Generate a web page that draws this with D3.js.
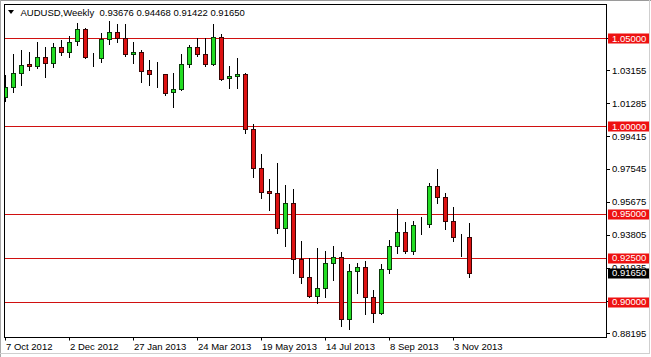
<!DOCTYPE html>
<html><head><meta charset="utf-8">
<script src="https://cdn.jsdelivr.net/npm/d3@7/dist/d3.min.js"></script>
<style>html,body{margin:0;padding:0;background:#fff;}svg{display:block;}</style>
</head><body>
<svg id="c" width="651" height="357"></svg>
<script>
const weeks = ["2012-10-07","2012-10-14","2012-10-21","2012-10-28","2012-11-04","2012-11-11","2012-11-18","2012-11-25","2012-12-02","2012-12-09","2012-12-16","2012-12-23","2012-12-30",
"2013-01-06","2013-01-13","2013-01-20","2013-01-27","2013-02-03","2013-02-10","2013-02-17","2013-02-24","2013-03-03","2013-03-10","2013-03-17","2013-03-24","2013-03-31",
"2013-04-07","2013-04-14","2013-04-21","2013-04-28","2013-05-05","2013-05-12","2013-05-19","2013-05-26","2013-06-02","2013-06-09","2013-06-16","2013-06-23","2013-06-30",
"2013-07-07","2013-07-14","2013-07-21","2013-07-28","2013-08-04","2013-08-11","2013-08-18","2013-08-25","2013-09-01","2013-09-08","2013-09-15","2013-09-22","2013-09-29",
"2013-10-06","2013-10-13","2013-10-20","2013-10-27","2013-11-03","2013-11-10","2013-11-17"];
const openP = [1.0166,1.0220,1.0299,1.0352,1.0341,1.0390,1.0356,1.0451,1.0422,1.0483,
1.0549,1.0388,1.0385,1.0493,1.0532,1.0498,1.0407,1.0419,1.0318,1.0295,
1.0295,1.0191,1.0208,1.0350,1.0447,1.0409,1.0350,1.0504,1.0271,1.0282,
1.0295,0.9981,0.9759,0.9630,0.9617,0.9418,0.9560,0.9243,0.9139,0.9034,
0.9080,0.9218,0.9253,0.8900,0.9173,0.9196,0.9025,0.8934,0.9184,0.9319,
0.9396,0.9290,0.9436,0.9440,0.9658,0.9594,0.9461,0.9366,0.93676];
const highP = [1.0290,1.0409,1.0432,1.0419,1.0476,1.0451,1.0473,1.0489,1.0511,1.0584,
1.0555,1.0416,1.0527,1.0597,1.0580,1.0580,1.0479,1.0432,1.0375,1.0365,
1.0297,1.0303,1.0409,1.0460,1.0498,1.0498,1.0580,1.0523,1.0341,1.0385,
1.0303,1.0011,0.9838,0.9698,0.9787,0.9662,0.9641,0.9345,0.9247,0.9304,
0.9288,0.9317,0.9283,0.9214,0.9218,0.9233,0.9067,0.9214,0.9351,0.9526,
0.9453,0.9459,0.9484,0.9674,0.9753,0.9617,0.9540,0.9385,0.94468];
const lowP = [1.0142,1.0195,1.0233,1.0318,1.0328,1.0280,1.0333,1.0403,1.0390,1.0460,
1.0386,1.0341,1.0365,1.0466,1.0479,1.0398,1.0356,1.0251,1.0233,1.0220,
1.0176,1.0109,1.0204,1.0337,1.0398,1.0341,1.0346,1.0261,1.0217,1.0217,
0.9958,0.9708,0.9588,0.9522,0.9393,0.9319,0.9162,0.9108,0.9028,0.8994,
0.9028,0.9123,0.8863,0.8843,0.9051,0.8928,0.8886,0.8930,0.9162,0.9279,
0.9279,0.9271,0.9385,0.9427,0.9563,0.9414,0.9347,0.9260,0.91422];
const closeP = [1.0220,1.0299,1.0345,1.0339,1.0390,1.0356,1.0451,1.0422,1.0479,1.0549,
1.0390,1.0388,1.0493,1.0532,1.0498,1.0407,1.0420,1.0314,1.0294,1.0295,
1.0189,1.0208,1.0352,1.0447,1.0407,1.0350,1.0504,1.0267,1.0282,1.0295,
0.9981,0.9759,0.9626,0.9617,0.9418,0.9560,0.9241,0.9139,0.9034,0.9080,
0.9218,0.9253,0.8900,0.9173,0.9196,0.9025,0.8934,0.9184,0.9319,0.9396,
0.9290,0.9435,0.9436,0.9658,0.9594,0.9461,0.9366,0.9366,0.91650];
const yTicks = [0.88195,0.90065,0.91935,0.93805,0.95675,0.97545,0.99415,1.01285,1.03155,1.05025];
const levels = [1.05,1.00,0.95,0.925,0.90];
const lastPrice = 0.9165;
const xTickDates = ["2012-10-07","2012-12-02","2013-01-27","2013-03-24","2013-05-19","2013-07-14","2013-09-08","2013-11-03"];
const xTickLabels = ["7 Oct 2012","2 Dec 2012","27 Jan 2013","24 Mar 2013","19 May 2013","14 Jul 2013","8 Sep 2013","3 Nov 2013"];
const header = "AUDUSD,Weekly  0.93676 0.94468 0.91422 0.91650";

const svg = d3.select("#c");
const FONT = "Liberation Sans, Arial, sans-serif";
const P = {l:4.5, t:4.5, r:606.5, b:337.5};
const parse = d3.utcParse("%Y-%m-%d");
const x = d3.scaleUtc().domain([parse(weeks[0]), parse(weeks[weeks.length-1])]).range([5.3, 469.3]);
const y = d3.scaleLinear().domain([0.90, 1.05]).range([301.7, 38]);

// window border
svg.append("rect").attr("x",0).attr("y",0).attr("width",651).attr("height",357).attr("fill","#fff");
svg.append("line").attr("x1",0).attr("x2",651).attr("y1",0.5).attr("y2",0.5).attr("stroke","#9a9a9a");
svg.append("line").attr("x1",0.5).attr("x2",0.5).attr("y1",0).attr("y2",357).attr("stroke","#a8a8a8");
svg.append("line").attr("x1",649.5).attr("x2",649.5).attr("y1",0).attr("y2",354).attr("stroke","#cfcfcf");
svg.append("line").attr("x1",0).attr("x2",650).attr("y1",353.5).attr("y2",353.5).attr("stroke","#cfcfcf");

svg.append("defs").append("clipPath").attr("id","clip").append("rect")
  .attr("x",P.l+0.5).attr("y",P.t+0.5).attr("width",P.r-P.l-1).attr("height",P.b-P.t-1);
const plot = svg.append("g").attr("clip-path","url(#clip)");

// level lines
plot.selectAll("line.lvl").data(levels).enter().append("line")
  .attr("x1",P.l).attr("x2",P.r)
  .attr("y1",d=>Math.round(y(d))+0.5).attr("y2",d=>Math.round(y(d))+0.5)
  .attr("stroke","#d01010").attr("stroke-width",1);

const bars = weeks.map((w,i)=>({d:parse(w),o:openP[i],h:highP[i],l:lowP[i],c:closeP[i]}));
const g = plot.selectAll("g.bar").data(bars).enter().append("g");
g.append("line")
  .attr("x1",d=>Math.round(x(d.d))+0.5).attr("x2",d=>Math.round(x(d.d))+0.5)
  .attr("y1",d=>Math.round(y(d.h))).attr("y2",d=>Math.round(y(d.l))+1)
  .attr("stroke","#000").attr("stroke-width",1);
g.append("rect")
  .attr("x",d=>Math.round(x(d.d))-1.5).attr("width",4)
  .attr("y",d=>Math.round(y(Math.max(d.o,d.c)))+0.5)
  .attr("height",d=>Math.max(0,Math.round(y(Math.min(d.o,d.c)))-Math.round(y(Math.max(d.o,d.c)))))
  .attr("fill",d=>d.c>d.o?"#22dd22":(d.c<d.o?"#dd1111":"#000"))
  .attr("stroke",d=>d.c>d.o?"#0a3a0a":(d.c<d.o?"#3a0505":"#000"))
  .attr("stroke-width",1);

// frame
svg.append("rect").attr("x",P.l).attr("y",P.t).attr("width",P.r-P.l).attr("height",P.b-P.t)
  .attr("fill","none").attr("stroke","#000").attr("stroke-width",1);

// y axis ticks
const yt = svg.selectAll("g.yt").data(yTicks).enter().append("g");
yt.append("line").attr("x1",P.r).attr("x2",P.r+3.5)
  .attr("y1",d=>Math.round(y(d))+0.5).attr("y2",d=>Math.round(y(d))+0.5).attr("stroke","#000");
yt.append("text").attr("x",612).attr("y",d=>y(d)).attr("dy","0.36em")
  .attr("font-family",FONT).attr("font-size","9.5px").attr("fill","#000").text(d=>d.toFixed(5));

// level labels
const lb = svg.selectAll("g.lb").data(levels).enter().append("g");
lb.append("rect").attr("x",608).attr("width",41).attr("y",d=>Math.round(y(d))-4.5).attr("height",10).attr("fill","#ee1111");
lb.append("text").attr("x",612).attr("y",d=>y(d)).attr("dy","0.38em")
  .attr("font-family",FONT).attr("font-size","9.5px").attr("fill","#fff").text(d=>d.toFixed(5));
// last price
svg.append("rect").attr("x",608).attr("width",41).attr("y",Math.round(y(lastPrice))-4.5).attr("height",10).attr("fill","#000");
svg.append("text").attr("x",612).attr("y",y(lastPrice)).attr("dy","0.38em")
  .attr("font-family",FONT).attr("font-size","9.5px").attr("fill","#fff").text(lastPrice.toFixed(5));

// x axis
const xt = svg.selectAll("g.xt").data(xTickDates).enter().append("g");
xt.append("line").attr("x1",d=>Math.round(x(parse(d)))+0.5).attr("x2",d=>Math.round(x(parse(d)))+0.5)
  .attr("y1",P.b).attr("y2",P.b+3).attr("stroke","#000");
xt.append("text").attr("x",d=>Math.round(x(parse(d)))+1).attr("y",350)
  .attr("font-family",FONT).attr("font-size","9.5px").attr("fill","#000").text((d,i)=>xTickLabels[i]);

// header
svg.append("path").attr("d","M8,10 L14,10 L11,14 Z").attr("fill","#000");
svg.append("text").attr("x",20.5).attr("y",16).attr("font-family",FONT).attr("font-size","9.5px")
  .attr("fill","#000").attr("xml:space","preserve").style("white-space","pre").text(header);
</script>
</body></html>
